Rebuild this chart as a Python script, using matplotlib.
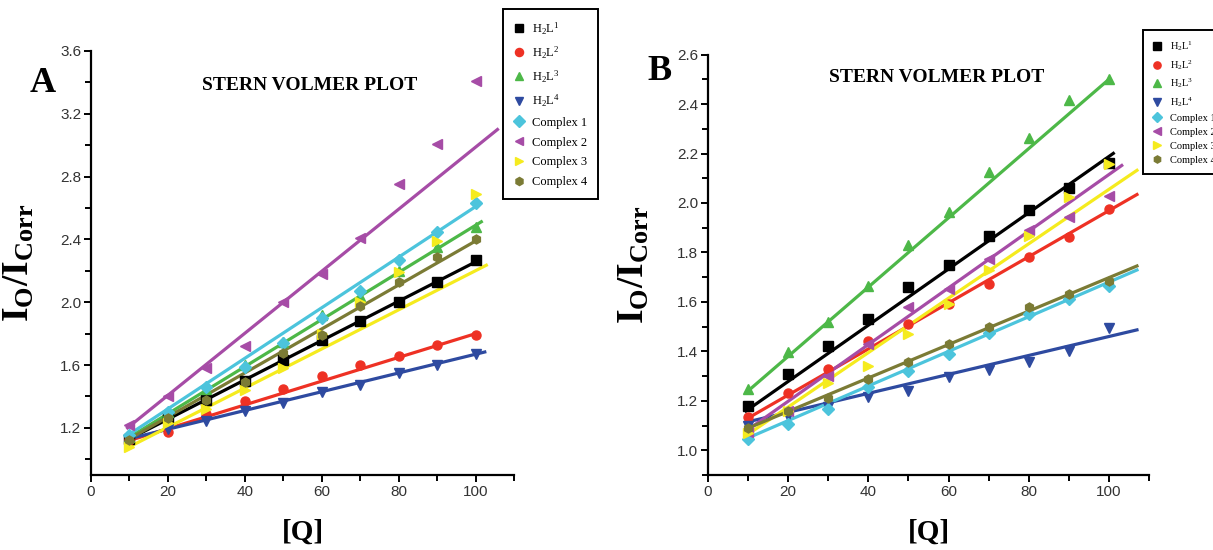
import numpy as np
import matplotlib
matplotlib.use("Agg")
import matplotlib.pyplot as plt
from matplotlib.ticker import MultipleLocator, FormatStrFormatter

plt.rcParams['mathtext.fontset'] = 'custom'
plt.rcParams['mathtext.rm'] = 'Liberation Serif'
plt.rcParams['mathtext.it'] = 'Liberation Serif:italic'
plt.rcParams['mathtext.bf'] = 'Liberation Serif:bold'

# quencher concentration
conc = [10, 20, 30, 40, 50, 60, 70, 80, 90, 100]

names = [r'H$_2$L$^1$', r'H$_2$L$^2$', r'H$_2$L$^3$', r'H$_2$L$^4$',
         'Complex 1', 'Complex 2', 'Complex 3', 'Complex 4']

# panel A, I0/Icorr
a_hl1 = [1.13, 1.27, 1.38, 1.50, 1.63, 1.76, 1.88, 2.00, 2.13, 2.27]
a_hl2 = [1.125, 1.175, 1.29, 1.37, 1.45, 1.53, 1.60, 1.66, 1.73, 1.79]
a_hl3 = [1.14, 1.30, 1.45, 1.60, 1.75, 1.92, 2.04, 2.20, 2.35, 2.48]
a_hl4 = [1.125, 1.19, 1.245, 1.31, 1.36, 1.43, 1.475, 1.55, 1.60, 1.67]
a_c1 = [1.155, 1.30, 1.46, 1.59, 1.74, 1.90, 2.07, 2.27, 2.45, 2.63]
a_c2 = [1.22, 1.40, 1.58, 1.72, 2.00, 2.18, 2.41, 2.75, 3.01, 3.41]
a_c3 = [1.08, 1.23, 1.32, 1.44, 1.58, 1.80, 2.00, 2.19, 2.39, 2.69]
a_c4 = [1.12, 1.26, 1.38, 1.49, 1.68, 1.79, 1.975, 2.13, 2.29, 2.40]
# linear fits as drawn (slope, intercept, last x)
a_slope = [0.01252, 0.00756, 0.0150, 0.00597, 0.0161, 0.01975, 0.01246, 0.0140]
a_icpt = [1.005, 1.044, 0.99, 1.072, 0.999, 1.0125, 0.955, 0.99]
a_end = [100.3, 100.2, 101.5, 102.4, 101.3, 105.7, 102.8, 100.0]

# panel B
b_hl1 = [1.18, 1.31, 1.42, 1.53, 1.66, 1.75, 1.865, 1.97, 2.06, 2.16]
b_hl2 = [1.135, 1.233, 1.33, 1.44, 1.51, 1.59, 1.673, 1.78, 1.862, 1.975]
b_hl3 = [1.247, 1.396, 1.517, 1.666, 1.831, 1.963, 2.125, 2.261, 2.416, 2.50]
b_hl4 = [1.10, 1.14, 1.173, 1.215, 1.238, 1.297, 1.324, 1.355, 1.402, 1.495]
b_c1 = [1.045, 1.105, 1.166, 1.254, 1.321, 1.389, 1.473, 1.551, 1.612, 1.666]
b_c2 = [1.075, 1.16, 1.30, 1.43, 1.578, 1.653, 1.774, 1.889, 1.943, 2.027]
b_c3 = [1.071, 1.16, 1.274, 1.342, 1.47, 1.592, 1.727, 1.865, 2.024, 2.159]
b_c4 = [1.092, 1.159, 1.213, 1.288, 1.355, 1.43, 1.497, 1.578, 1.632, 1.686]
b_slope = [0.01137, 0.00932, 0.0140, 0.00383, 0.0070, 0.01146, 0.0110, 0.00676]
b_icpt = [1.051, 1.037, 1.10, 1.077, 0.98, 0.969, 0.955, 1.022]
b_end = [101.1, 107, 100, 107, 107, 103.2, 107, 107]

colors = ['#000000', '#ee3124', '#4db848', '#2e4aa0',
          '#4cc4dc', '#a64ca6', '#f5eb1e', '#7b7b35']
markers = ['s', 'o', '^', 'v', 'D', '<', '>', 'h']

fig = plt.figure(figsize=(12.13, 5.5), dpi=100)
axA = fig.add_axes([91 / 1213, 75 / 550, 423 / 1213, 424 / 550])
axB = fig.add_axes([708 / 1213, 75 / 550, 441 / 1213, 420.4 / 550])


def draw_panel(ax, series, slopes, icpts, ends, ylim, ymaj, ymin):
    for i, ys in enumerate(series):
        xl = np.linspace(9.5, ends[i], 50)
        ax.plot(xl, slopes[i] * xl + icpts[i], color=colors[i], lw=2.3, zorder=2)
        ax.plot(conc, ys, ls='none', marker=markers[i], color=colors[i],
                ms=6.5, mec=colors[i], label=names[i], zorder=3)
    ax.set_xlim(0, 110)
    ax.set_ylim(*ylim)
    ax.xaxis.set_major_locator(MultipleLocator(20))
    ax.xaxis.set_minor_locator(MultipleLocator(10))
    ax.yaxis.set_major_locator(MultipleLocator(ymaj))
    ax.yaxis.set_minor_locator(MultipleLocator(ymin))
    ax.yaxis.set_major_formatter(FormatStrFormatter('%.1f'))
    for s in ['top', 'right']:
        ax.spines[s].set_visible(False)
    for s in ['left', 'bottom']:
        ax.spines[s].set_linewidth(1.6)
    ax.tick_params(which='major', length=5, width=1.4, labelsize=11,
                   labelcolor='#333333', pad=2)
    ax.tick_params(which='minor', length=4, width=1.4)
    for lab in ax.get_xticklabels() + ax.get_yticklabels():
        lab.set_family('Liberation Sans')
    ax.set_xlabel('[Q]', family='Liberation Serif', fontweight='bold', fontsize=21)
    ax.set_ylabel(r'$\mathbf{I_O/I_{Corr}}$', fontsize=27)


draw_panel(axA, [a_hl1, a_hl2, a_hl3, a_hl4, a_c1, a_c2, a_c3, a_c4],
           a_slope, a_icpt, a_end, (0.9, 3.6), 0.4, 0.2)
draw_panel(axB, [b_hl1, b_hl2, b_hl3, b_hl4, b_c1, b_c2, b_c3, b_c4],
           b_slope, b_icpt, b_end, (0.9, 2.6), 0.2, 0.1)

axA.xaxis.set_label_coords(0.5, -44 / 424)
axB.xaxis.set_label_coords(0.5, -44 / 420)
axA.yaxis.set_label_coords(-54 / 423, 0.5)
axB.yaxis.set_label_coords(-56 / 441, 0.5)

# titles and panel letters
fig.text(309.5 / 1213, 1 - 86 / 550, 'STERN VOLMER PLOT', family='Liberation Serif',
         fontweight='bold', fontsize=14, ha='center', va='center')
fig.text(937 / 1213, 1 - 77 / 550, 'STERN VOLMER PLOT', family='Liberation Serif',
         fontweight='bold', fontsize=14, ha='center', va='center')
fig.text(43 / 1213, 1 - 83 / 550, 'A', family='Liberation Serif',
         fontweight='bold', fontsize=26, ha='center', va='center')
fig.text(660 / 1213, 1 - 72 / 550, 'B', family='Liberation Serif',
         fontweight='bold', fontsize=26, ha='center', va='center')

# legends
legA = axA.legend(loc='upper left', bbox_to_anchor=(503 / 1213, 1 - 9 / 550),
                  bbox_transform=fig.transFigure, borderaxespad=0,
                  prop={'family': 'Liberation Serif', 'size': 9},
                  frameon=True, fancybox=False, edgecolor='black', framealpha=1,
                  handlelength=0.8, handletextpad=0.6, labelspacing=0.62,
                  borderpad=0.9, markerscale=0.9)
legA.get_frame().set_linewidth(1.4)
legB = axB.legend(loc='upper left', bbox_to_anchor=(1143 / 1213, 1 - 30 / 550),
                  bbox_transform=fig.transFigure, borderaxespad=0,
                  prop={'family': 'Liberation Serif', 'size': 7.5},
                  frameon=True, fancybox=False, edgecolor='black', framealpha=1,
                  handlelength=0.8, handletextpad=0.9, labelspacing=0.45,
                  borderpad=0.9, markerscale=0.8)
legB.get_frame().set_linewidth(1.4)

fig.savefig('out.png', dpi=100)
